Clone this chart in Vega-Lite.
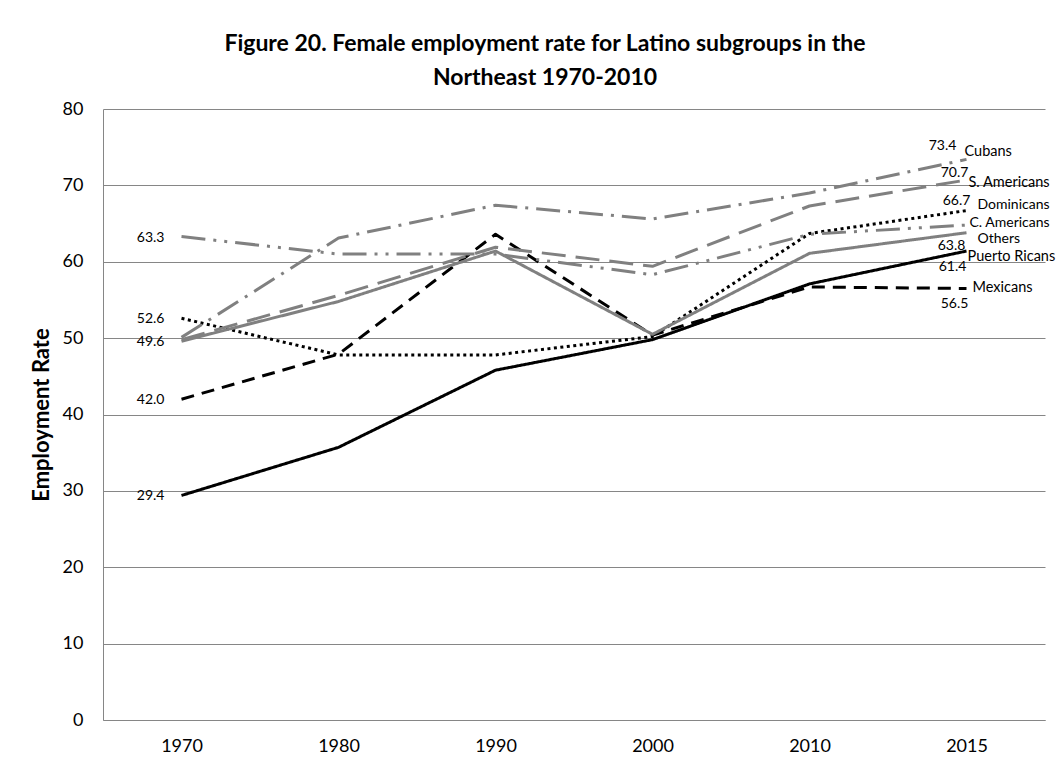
{
  "$schema": "https://vega.github.io/schema/vega-lite/v6.json",
  "autosize": {"type": "none"},
  "padding": {"left": 103, "top": 109, "right": 17, "bottom": 47},
  "width": 942,
  "height": 611,
  "background": "white",
  "title": {
    "text": ["Figure 20. Female employment rate for Latino subgroups in the", "Northeast 1970-2010"],
    "font": "Lato",
    "fontSize": 23,
    "fontWeight": "bold",
    "color": "black",
    "anchor": "middle",
    "dx": -29,
    "offset": 10,
    "lineHeight": 34
  },
  "config": {
    "view": {"stroke": null},
    "font": "Lato"
  },
  "datasets": {
    "rates": [
      {"series": "Puerto Ricans", "year": "1970", "value": 29.4},
      {"series": "Puerto Ricans", "year": "1980", "value": 35.7},
      {"series": "Puerto Ricans", "year": "1990", "value": 45.8},
      {"series": "Puerto Ricans", "year": "2000", "value": 49.8},
      {"series": "Puerto Ricans", "year": "2010", "value": 57.1},
      {"series": "Puerto Ricans", "year": "2015", "value": 61.4},
      {"series": "Mexicans", "year": "1970", "value": 42.0},
      {"series": "Mexicans", "year": "1980", "value": 47.9},
      {"series": "Mexicans", "year": "1990", "value": 63.6},
      {"series": "Mexicans", "year": "2000", "value": 50.4},
      {"series": "Mexicans", "year": "2010", "value": 56.7},
      {"series": "Mexicans", "year": "2015", "value": 56.5},
      {"series": "Dominicans", "year": "1970", "value": 52.6},
      {"series": "Dominicans", "year": "1980", "value": 47.8},
      {"series": "Dominicans", "year": "1990", "value": 47.8},
      {"series": "Dominicans", "year": "2000", "value": 50.2},
      {"series": "Dominicans", "year": "2010", "value": 63.7},
      {"series": "Dominicans", "year": "2015", "value": 66.7},
      {"series": "Cubans", "year": "1970", "value": 50.1},
      {"series": "Cubans", "year": "1980", "value": 63.1},
      {"series": "Cubans", "year": "1990", "value": 67.4},
      {"series": "Cubans", "year": "2000", "value": 65.6},
      {"series": "Cubans", "year": "2010", "value": 69.0},
      {"series": "Cubans", "year": "2015", "value": 73.4},
      {"series": "S. Americans", "year": "1970", "value": 49.8},
      {"series": "S. Americans", "year": "1980", "value": 55.6},
      {"series": "S. Americans", "year": "1990", "value": 61.9},
      {"series": "S. Americans", "year": "2000", "value": 59.4},
      {"series": "S. Americans", "year": "2010", "value": 67.3},
      {"series": "S. Americans", "year": "2015", "value": 70.7},
      {"series": "C. Americans", "year": "1970", "value": 63.3},
      {"series": "C. Americans", "year": "1980", "value": 61.0},
      {"series": "C. Americans", "year": "1990", "value": 61.0},
      {"series": "C. Americans", "year": "2000", "value": 58.3},
      {"series": "C. Americans", "year": "2010", "value": 63.6},
      {"series": "C. Americans", "year": "2015", "value": 64.8},
      {"series": "Others", "year": "1970", "value": 49.6},
      {"series": "Others", "year": "1980", "value": 54.8},
      {"series": "Others", "year": "1990", "value": 61.4},
      {"series": "Others", "year": "2000", "value": 50.5},
      {"series": "Others", "year": "2010", "value": 61.1},
      {"series": "Others", "year": "2015", "value": 63.8}
    ]
  },
  "data": {"name": "rates"},
  "encoding": {
    "x": {
      "field": "year",
      "type": "ordinal",
      "sort": ["1970", "1980", "1990", "2000", "2010", "2015"],
      "scale": {"type": "point", "padding": 0.5},
      "axis": {
        "title": null,
        "labelAngle": 0,
        "labelFont": "Lato",
        "labelFontSize": 18,
        "labelColor": "black",
        "labelPadding": 17,
        "ticks": false,
        "domainColor": "#868686",
        "domainWidth": 1,
        "grid": false
      }
    },
    "y": {
      "field": "value",
      "type": "quantitative",
      "scale": {"domain": [0, 80], "nice": false, "zero": true},
      "axis": {
        "title": "Employment Rate",
        "titleFont": "Lato",
        "titleFontSize": 22,
        "titleFontWeight": "bold",
        "titleColor": "black",
        "titlePadding": 9,
        "values": [0, 10, 20, 30, 40, 50, 60, 70, 80],
        "labelFont": "Lato",
        "labelFontSize": 18,
        "labelColor": "black",
        "labelPadding": 20,
        "ticks": false,
        "domainColor": "#868686",
        "domainWidth": 1,
        "grid": true,
        "gridColor": "#868686",
        "gridWidth": 1
      }
    }
  },
  "layer": [
    {
      "mark": {"type": "line", "strokeWidth": 3, "strokeCap": "butt", "strokeJoin": "round"},
      "encoding": {
        "detail": {"field": "series"},
        "color": {
          "field": "series",
          "type": "nominal",
          "scale": {
            "domain": ["Puerto Ricans", "Mexicans", "Dominicans", "Cubans", "S. Americans", "C. Americans", "Others"],
            "range": ["#000000", "#000000", "#000000", "#808080", "#808080", "#808080", "#808080"]
          },
          "legend": null
        },
        "strokeDash": {
          "field": "series",
          "type": "nominal",
          "scale": {
            "domain": ["Puerto Ricans", "Mexicans", "Dominicans", "Cubans", "S. Americans", "C. Americans", "Others"],
            "range": [[1, 0], [13, 8], [3, 3.5], [24, 8, 3, 8], [24, 10], [24, 8, 3, 8, 3, 8], [1, 0]]
          },
          "legend": null
        }
      }
    },
    {
      "transform": [{"filter": "datum.year === '1970' && (datum.series === 'C. Americans' || datum.series === 'Dominicans' || datum.series === 'Others' || datum.series === 'Mexicans' || datum.series === 'Puerto Ricans')"}],
      "mark": {"type": "text", "align": "right", "baseline": "middle", "dx": -17, "dy": 1, "fontSize": 14, "font": "Lato", "color": "black"},
      "encoding": {"text": {"field": "value", "type": "quantitative", "format": ".1f"}}
    },
    {
      "transform": [{"filter": "datum.year === '2015' && datum.series === 'Cubans'"}],
      "mark": {"type": "text", "align": "center", "baseline": "middle", "dx": -24, "dy": -13, "fontSize": 14, "font": "Lato", "color": "black"},
      "encoding": {"text": {"field": "value", "type": "quantitative", "format": ".1f"}}
    },
    {
      "transform": [{"filter": "datum.year === '2015' && datum.series === 'S. Americans'"}],
      "mark": {"type": "text", "align": "center", "baseline": "middle", "dx": -12, "dy": -7, "fontSize": 14, "font": "Lato", "color": "black"},
      "encoding": {"text": {"field": "value", "type": "quantitative", "format": ".1f"}}
    },
    {
      "transform": [{"filter": "datum.year === '2015' && datum.series === 'Dominicans'"}],
      "mark": {"type": "text", "align": "center", "baseline": "middle", "dx": -10, "dy": -10, "fontSize": 14, "font": "Lato", "color": "black"},
      "encoding": {"text": {"field": "value", "type": "quantitative", "format": ".1f"}}
    },
    {
      "transform": [{"filter": "datum.year === '2015' && datum.series === 'Others'"}],
      "mark": {"type": "text", "align": "center", "baseline": "middle", "dx": -15, "dy": 13, "fontSize": 14, "font": "Lato", "color": "black"},
      "encoding": {"text": {"field": "value", "type": "quantitative", "format": ".1f"}}
    },
    {
      "transform": [{"filter": "datum.year === '2015' && datum.series === 'Puerto Ricans'"}],
      "mark": {"type": "text", "align": "center", "baseline": "middle", "dx": -14, "dy": 16, "fontSize": 14, "font": "Lato", "color": "black"},
      "encoding": {"text": {"field": "value", "type": "quantitative", "format": ".1f"}}
    },
    {
      "transform": [{"filter": "datum.year === '2015' && datum.series === 'Mexicans'"}],
      "mark": {"type": "text", "align": "center", "baseline": "middle", "dx": -12, "dy": 16, "fontSize": 14, "font": "Lato", "color": "black"},
      "encoding": {"text": {"field": "value", "type": "quantitative", "format": ".1f"}}
    },
    {
      "transform": [{"filter": "datum.year === '2015' && datum.series === 'Cubans'"}],
      "mark": {"type": "text", "align": "left", "baseline": "middle", "dx": -2, "dy": -7, "fontSize": 14.5, "font": "Lato", "color": "black"},
      "encoding": {"text": {"field": "series"}}
    },
    {
      "transform": [{"filter": "datum.year === '2015' && datum.series === 'S. Americans'"}],
      "mark": {"type": "text", "align": "left", "baseline": "middle", "dx": 2, "dy": 3, "fontSize": 14.5, "font": "Lato", "color": "black"},
      "encoding": {"text": {"field": "series"}}
    },
    {
      "transform": [{"filter": "datum.year === '2015' && datum.series === 'Dominicans'"}],
      "mark": {"type": "text", "align": "left", "baseline": "middle", "dx": 11, "dy": -6, "fontSize": 14, "font": "Lato", "color": "black"},
      "encoding": {"text": {"field": "series"}}
    },
    {
      "transform": [{"filter": "datum.year === '2015' && datum.series === 'C. Americans'"}],
      "mark": {"type": "text", "align": "left", "baseline": "middle", "dx": 3, "dy": -2, "fontSize": 14, "font": "Lato", "color": "black"},
      "encoding": {"text": {"field": "series"}}
    },
    {
      "transform": [{"filter": "datum.year === '2015' && datum.series === 'Others'"}],
      "mark": {"type": "text", "align": "left", "baseline": "middle", "dx": 11, "dy": 6, "fontSize": 14, "font": "Lato", "color": "black"},
      "encoding": {"text": {"field": "series"}}
    },
    {
      "transform": [{"filter": "datum.year === '2015' && datum.series === 'Puerto Ricans'"}],
      "mark": {"type": "text", "align": "left", "baseline": "middle", "dx": 1, "dy": 6, "fontSize": 14.5, "font": "Lato", "color": "black"},
      "encoding": {"text": {"field": "series"}}
    },
    {
      "transform": [{"filter": "datum.year === '2015' && datum.series === 'Mexicans'"}],
      "mark": {"type": "text", "align": "left", "baseline": "middle", "dx": 6, "dy": 0, "fontSize": 14.5, "font": "Lato", "color": "black"},
      "encoding": {"text": {"field": "series"}}
    }
  ]
}
